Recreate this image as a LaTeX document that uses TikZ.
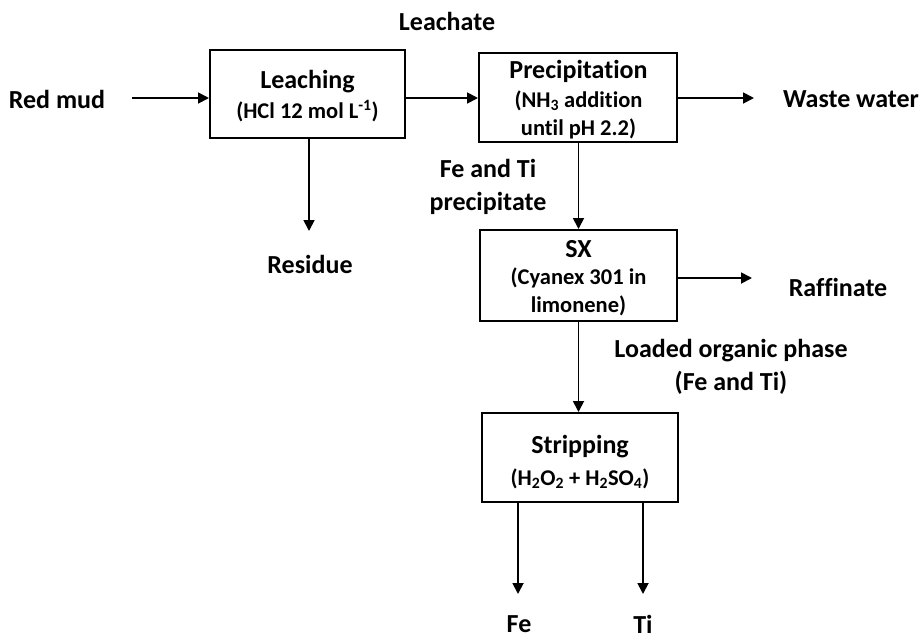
\documentclass[tikz,border=0pt]{standalone}
\usepackage{fontspec}
\setmainfont{Carlito}[Ligatures=NoCommon]
\usetikzlibrary{arrows.meta}
\tikzset{
  procbox/.style={draw=black, line width=2pt, inner sep=0pt},
  title/.style={anchor=base, inner sep=0pt, font=\bfseries\fontsize{26}{30}\selectfont},
  sub/.style={anchor=base, inner sep=0pt, font=\bfseries\fontsize{22.5}{27}\selectfont},
  lbl/.style={align=center, inner sep=0pt, font=\bfseries\fontsize{26}{32.5}\selectfont},
  flow/.style={line width=1.8pt, -{Triangle[length=11pt,width=11pt]}}
}
\begin{document}
\begin{tikzpicture}[x=1pt,y=-1pt]
\useasboundingbox[fill=white] (0,0) rectangle (921,638);
% boxes
\node[procbox, minimum width=195pt, minimum height=88pt] (leach) at (307.5,94) {};
\node[procbox, minimum width=198pt, minimum height=89pt] (precip) at (578,97.5) {};
\node[procbox, minimum width=197pt, minimum height=91pt] (sx) at (578.5,275.5) {};
\node[procbox, minimum width=196pt, minimum height=89pt] (strip) at (580,457.5) {};
% box texts
\node[title] (leachA) at (307.5,88) {Leaching};
\node[sub]   (leachB) at (307.5,118) {(HCl 12 mol L\textsuperscript{-1})};
\node[title] (precA) at (578.5,78) {Precipitation};
\node[sub]   (precB) at (578.5,107) {(NH\textsubscript{3} addition};
\node[sub]   (precC) at (578.5,135) {until pH 2.2)};
\node[title] (sxA) at (578.5,257) {SX};
\node[sub]   (sxB) at (578.5,284) {(Cyanex 301 in};
\node[sub]   (sxC) at (578.5,312) {limonene)};
\node[title] (stripA) at (580,453) {Stripping};
\node[sub]   (stripB) at (580,485) {(H\textsubscript{2}O\textsubscript{2} + H\textsubscript{2}SO\textsubscript{4})};
% labels
\node[lbl] (redmud) at (57,99) {Red mud};
\node[lbl] (leachate) at (447,21) {Leachate};
\node[lbl] (waste) at (851,99) {Waste water};
\node[lbl] (residue) at (310,264) {Residue};
\node[lbl] (fetip) at (488,187) {Fe and Ti\\precipitate};
\node[lbl] (raff) at (838,287) {Raffinate};
\node[lbl] (loaded) at (731,367) {Loaded organic phase\\(Fe and Ti)};
\node[lbl] (fe) at (519,624) {Fe};
\node[lbl] (ti) at (643,624) {Ti};
% coordinates
\coordinate (rmA) at (132,98);
\coordinate (wwB) at (754,98);
\coordinate (resB) at (309,231);
\coordinate (rafB) at (752,278);
\coordinate (feA) at (518,502);
\coordinate (feB) at (518,594);
\coordinate (tiA) at (643,502);
\coordinate (tiB) at (643,594);
% connectors
\draw[flow] (rmA) -- (leach.west |- rmA);
\draw[flow] (leach.east |- rmA) -- (precip.west |- rmA);
\draw[flow] (precip.east |- rmA) -- (wwB);
\draw[flow] (leach.south -| resB) -- (resB);
\draw[flow] (precip.south -| sx.north) -- (sx.north);
\draw[flow] (sx.east |- rafB) -- (rafB);
\draw[flow] (sx.south) -- (strip.north -| sx.south);
\draw[flow] (feA) -- (feB);
\draw[flow] (tiA) -- (tiB);
\end{tikzpicture}
\end{document}
